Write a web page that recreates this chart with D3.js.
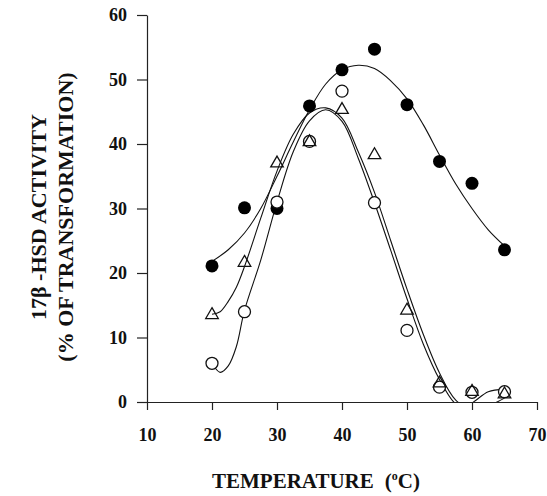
<!DOCTYPE html>
<html lang="en">
  <head>
    <meta charset="UTF-8" />
    <title>17β-HSD activity vs temperature</title>
    <style>
      body {
        margin: 0;
        background: #fff;
      }
      svg text {
        font-family: 'Liberation Serif', 'Times New Roman', serif;
        font-weight: bold;
        fill: #111;
      }
    </style>
  </head>
  <body>
    <div id="main"></div>
    <script src="https://cdn.jsdelivr.net/npm/d3@7"></script>
    <script>
      const temps = [20, 25, 30, 35, 40, 45, 50, 55, 60, 65]
      // measured points
      const filledValues = [21.1, 30.1, 30, 45.9, 51.5, 54.7, 46.1, 37.3, 33.9, 23.6]
      const openValues = [6, 14, 31, 40.4, 48.2, 30.9, 11.1, 2.3, 1.5, 1.6]
      const triValues = [13.5, 21.6, 37, 40.3, 45.3, 38.3, 14.2, 2.9, 1.6, 1.2]

      // fitted curves
      const filledFitT = [20, 22.5, 25, 27.5, 30, 32.5, 35, 37.5, 40, 42.5, 45, 47.5, 50, 52.5, 55, 57.5, 60, 62.5, 65]
      const filledFitV = [21.8, 23.6, 26.2, 30, 35, 40.3, 45.3, 49.3, 51.5, 52.2, 51.7, 49.8, 47, 43, 38.3, 33.8, 30, 26.7, 24.2]
      const openFitT = [20, 21.25, 22.5, 23.75, 25, 27.5, 30, 32.5, 35, 37.5, 40, 42.5, 45, 47.5, 50, 52.5, 55, 57.5, 59, 60.5, 62.5, 65]
      const openFitV = [6, 4.6, 5.6, 8.6, 14.2, 22, 31, 38.8, 43.6, 45.3, 43.5, 37.8, 30.9, 23.5, 16, 9, 3.5, -0.3, -0.8, 0.2, 1.6, 2]
      const triFitT = [20, 21.25, 22.5, 23.75, 25, 27.5, 30, 32.5, 35, 37.5, 40, 42.5, 45, 47.5, 50, 52.5, 55, 57.5, 60, 62.5, 65]
      const triFitV = [13.6, 14, 15.6, 17.8, 21, 28.5, 35.8, 41.5, 44.8, 45.6, 44, 38.8, 32.5, 25, 17.5, 10.5, 4.5, 0.3, -1.2, -0.6, 0.6]

      const xTicks = [10, 20, 30, 40, 50, 60, 70]
      const yTicks = [0, 10, 20, 30, 40, 50, 60]

      const [width, height] = [547, 496]
      const svg = d3
        .select('#main')
        .append('svg')
        .attr('width', width)
        .attr('height', height)
        .attr('viewBox', `0 0 ${width} ${height}`)

      const xScale = d3.scaleLinear().domain([10, 70]).range([147, 537])
      const yScale = d3.scaleLinear().domain([0, 60]).range([402, 15])

      // axes
      const xAxis = svg
        .append('g')
        .attr('transform', `translate(0, ${yScale(0)})`)
        .call(
          d3.axisBottom(xScale).tickValues(xTicks).tickSize(8).tickSizeOuter(0).tickPadding(18)
        )
      const yAxis = svg
        .append('g')
        .attr('transform', `translate(${xScale(10)}, 0)`)
        .call(
          d3.axisLeft(yScale).tickValues(yTicks).tickSize(10).tickSizeOuter(0).tickPadding(10)
        )
      for (const ax of [xAxis, yAxis]) {
        ax.attr('font-family', null).attr('font-size', null)
        ax.selectAll('path, line').attr('stroke', '#222').attr('stroke-width', 1.2)
        ax.selectAll('text').style('font-size', '18px')
      }

      // fitted curves, clipped at zero
      svg
        .append('clipPath')
        .attr('id', 'plotClip')
        .append('rect')
        .attr('x', xScale(10))
        .attr('y', yScale(60))
        .attr('width', xScale(70) - xScale(10))
        .attr('height', yScale(0) - yScale(60))

      const line = d3
        .line()
        .x(d => xScale(d[0]))
        .y(d => yScale(d[1]))
        .curve(d3.curveCatmullRom.alpha(0.5))

      const fits = [
        d3.zip(filledFitT, filledFitV),
        d3.zip(openFitT, openFitV),
        d3.zip(triFitT, triFitV)
      ]
      svg
        .append('g')
        .attr('clip-path', 'url(#plotClip)')
        .selectAll('path')
        .data(fits)
        .join('path')
        .attr('d', line)
        .attr('fill', 'none')
        .attr('stroke', '#111')
        .attr('stroke-width', 1.1)

      // markers
      const marks = svg.append('g')
      marks
        .selectAll('circle.filled')
        .data(d3.zip(temps, filledValues))
        .join('circle')
        .attr('class', 'filled')
        .attr('cx', d => xScale(d[0]))
        .attr('cy', d => yScale(d[1]))
        .attr('r', 6.5)
        .attr('fill', '#000')

      marks
        .selectAll('circle.open')
        .data(d3.zip(temps, openValues))
        .join('circle')
        .attr('class', 'open')
        .attr('cx', d => xScale(d[0]))
        .attr('cy', d => yScale(d[1]))
        .attr('r', 6)
        .attr('fill', '#fff')
        .attr('stroke', '#111')
        .attr('stroke-width', 1.3)

      const tri = d3.symbol().type(d3.symbolTriangle).size(68)
      marks
        .selectAll('path.tri')
        .data(d3.zip(temps, triValues))
        .join('path')
        .attr('class', 'tri')
        .attr('d', tri)
        .attr('transform', d => `translate(${xScale(d[0])}, ${yScale(d[1])})`)
        .attr('fill', 'none')
        .attr('stroke', '#111')
        .attr('stroke-width', 1.3)

      // titles
      const xTitle = svg
        .append('text')
        .attr('x', 212)
        .attr('y', 488)
        .style('font-size', '21px')
      xTitle.append('tspan').text('TEMPERATURE')
      xTitle.append('tspan').text('(').attr('dx', 11)
      xTitle.append('tspan').text('o').attr('dy', -8).style('font-size', '12px')
      xTitle.append('tspan').text('C)').attr('dy', 8)

      const yTitle = svg
        .append('g')
        .attr('transform', 'translate(0, 217) rotate(-90)')
      yTitle
        .append('text')
        .attr('x', 0)
        .attr('y', 46)
        .attr('text-anchor', 'middle')
        .style('font-size', '22px')
        .text('17β -HSD ACTIVITY')
      yTitle
        .append('text')
        .attr('x', 0)
        .attr('y', 73)
        .attr('text-anchor', 'middle')
        .style('font-size', '22px')
        .text('(% OF TRANSFORMATION)')
    </script>
  </body>
</html>
